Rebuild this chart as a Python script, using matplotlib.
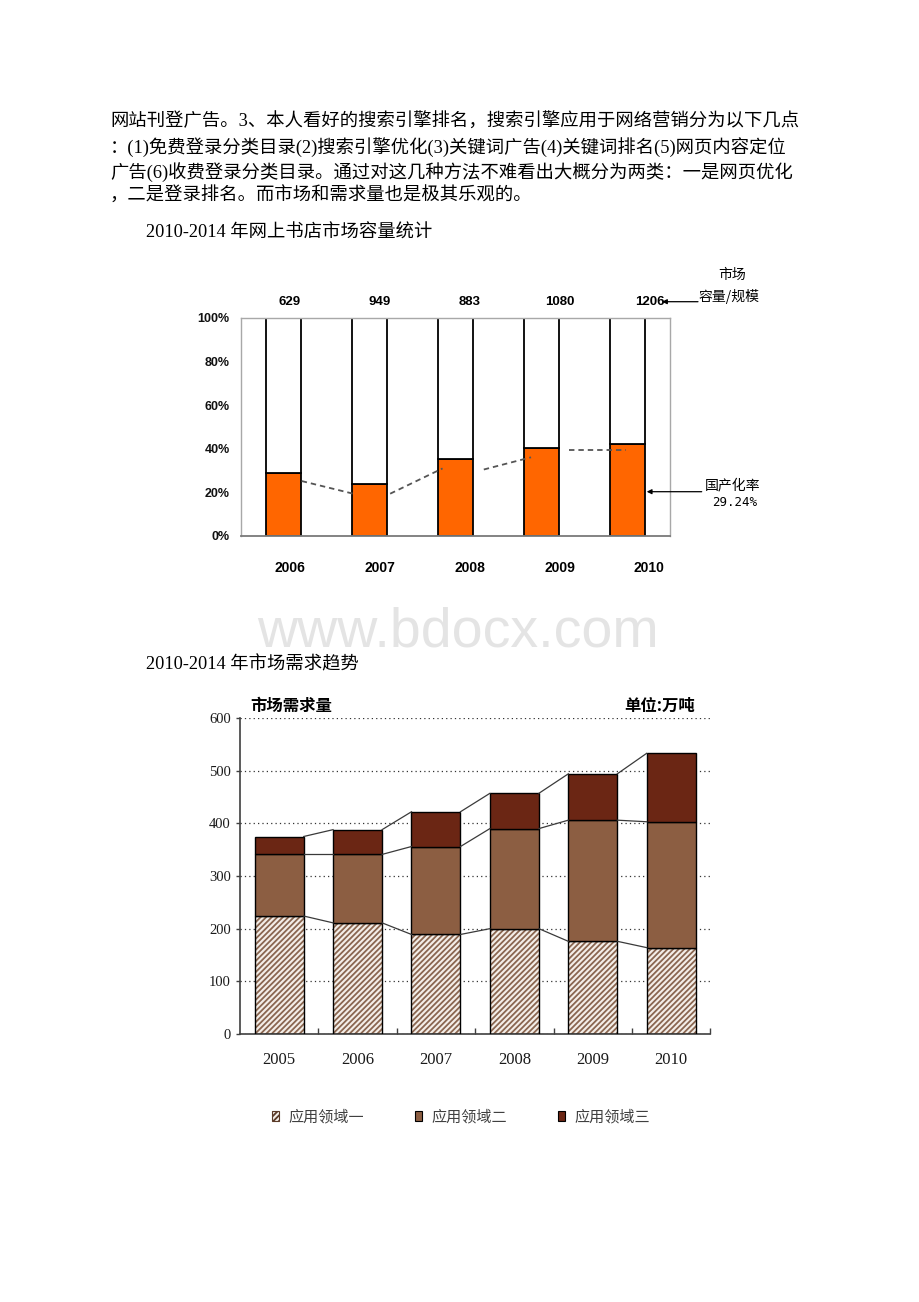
import matplotlib
matplotlib.use('Agg')
import matplotlib.pyplot as plt
from matplotlib.patches import Patch, FancyArrowPatch

W, H = 920, 1302

# ---------------- data ----------------
body_lines = [
    "网站刊登广告。3、本人看好的搜索引擎排名，搜索引擎应用于网络营销分为以下几点",
    "：(1)免费登录分类目录(2)搜索引擎优化(3)关键词广告(4)关键词排名(5)网页内容定位",
    "广告(6)收费登录分类目录。通过对这几种方法不难看出大概分为两类：一是网页优化",
    "，二是登录排名。而市场和需求量也是极其乐观的。",
]
caption1 = "2010-2014 年网上书店市场容量统计"
caption2 = "2010-2014 年市场需求趋势"
watermark = "www.bdocx.com"

years1 = ["2006", "2007", "2008", "2009", "2010"]
capacity = [629, 949, 883, 1080, 1206]
localization_pct = [28.7, 23.7, 35.3, 40.4, 42.3]
trend_start = [25.2, 19.4, 30.5, 39.4]
trend_end = [19.4, 31.0, 36.1, 39.4]
pct_ticks = [0, 20, 40, 60, 80, 100]
pct_labels = ["0%", "20%", "40%", "60%", "80%", "100%"]
note_capacity = ["市场", "容量/规模"]
note_rate = ["国产化率", "29.24%"]

years2 = ["2005", "2006", "2007", "2008", "2009", "2010"]
field1 = [224, 211, 189, 200, 176, 164]
field2 = [117, 130, 167, 190, 230, 239]
field3 = [34, 47, 66, 67, 88, 130]
demand_ticks = [0, 100, 200, 300, 400, 500, 600]
legend_labels = ["应用领域一", "应用领域二", "应用领域三"]
chart2_title = "市场需求量"
chart2_unit = "单位:万吨"

# ---------------- helpers ----------------
def fx(x):
    return x / W

def fy(y):
    return 1 - y / H

MIX = ["Liberation Serif", "Noto Sans CJK SC"]
CJK = ["Noto Sans CJK SC", "DejaVu Sans"]
plt.rcParams["hatch.linewidth"] = 1.3

fig = plt.figure(figsize=(W / 100, H / 100), dpi=100)
fig.patch.set_facecolor("white")

# body text
line_y = [122, 147, 172, 196]
for ln, yy in zip(body_lines, line_y):
    fig.text(fx(110), fy(yy), ln, fontsize=13.2, family=MIX, ha="left", va="center", color="black")
fig.text(fx(146), fy(233), caption1, fontsize=13.2, family=MIX, ha="left", va="center")
fig.text(fx(146), fy(665), caption2, fontsize=13.2, family=MIX, ha="left", va="center")

# watermark
fig.text(fx(458), fy(632), watermark, fontsize=40, family="Liberation Sans",
         ha="center", va="center", color="#e4e4e4", zorder=0)

# ---------------- chart 1 ----------------
ax1 = fig.add_axes([fx(240.7), fy(536), (670.2 - 240.7) / W, 218 / H])
n1 = len(years1)
xs1 = list(range(n1))
bw1 = 0.41
upper = [100 - v for v in localization_pct]
ax1.bar(xs1, localization_pct, width=bw1, color="#ff6600", edgecolor="black", linewidth=1.3, zorder=2)
ax1.bar(xs1, upper, bottom=localization_pct, width=bw1, color="white", edgecolor="black", linewidth=1.3, zorder=2)

seg_start_off = [0.21, 0.24, 0.33, 0.32]
seg_end_off = [0.81, 0.85, 0.88, 0.98]
for i in range(len(trend_start)):
    ax1.plot([i + seg_start_off[i], i + seg_end_off[i]], [trend_start[i], trend_end[i]],
             linestyle=(0, (3, 2.2)), color="#555555", linewidth=1.3, zorder=3)

ax1.set_xlim(-0.5, n1 - 0.5)
ax1.set_ylim(0, 100)
ax1.set_yticks(pct_ticks)
ax1.set_yticklabels(pct_labels, fontsize=9, fontweight="bold", family="Liberation Sans", color="#111111")
ax1.set_xticks([])
ax1.tick_params(axis="y", length=0, pad=8.0)
for s in ["top", "left", "right"]:
    ax1.spines[s].set_color("#a8a8a8")
    ax1.spines[s].set_linewidth(1.0)
ax1.spines["bottom"].set_color("#7a7a7a")
ax1.spines["bottom"].set_linewidth(1.3)

for i, (v, yr) in enumerate(zip(capacity, years1)):
    lx = i + 0.07 + 0.047 * i
    ax1.annotate(str(v), xy=(lx, 100), xytext=(0, 11.8), textcoords="offset points",
                 ha="center", va="center", fontsize=9.5, fontweight="bold", family="Liberation Sans",
                 annotation_clip=False)
    ax1.annotate(yr, xy=(lx, 0), xytext=(0, -23.3), textcoords="offset points",
                 ha="center", va="center", fontsize=10, fontweight="bold", family="Liberation Sans",
                 annotation_clip=False)

# annotations chart 1
fig.text(fx(731.7), fy(275), note_capacity[0], fontsize=10, family=CJK, ha="center", va="center")
fig.text(fx(729), fy(297), note_capacity[1], fontsize=10, family=CJK, ha="center", va="center")
fig.text(fx(732.7), fy(485), note_rate[0], fontsize=10, family=CJK, ha="center", va="center")
fig.text(fx(734.3), fy(502), note_rate[1], fontsize=9, family="DejaVu Sans Mono", ha="center", va="center")
arrow_kw = dict(arrowstyle="-|>", color="black", lw=0.9, mutation_scale=7, shrinkA=0, shrinkB=0)
fig.add_artist(FancyArrowPatch((fx(698), fy(301.7)), (fx(662), fy(301.7)),
                               transform=fig.transFigure, **arrow_kw))
fig.add_artist(FancyArrowPatch((fx(701.7), fy(491.7)), (fx(646.7), fy(491.7)),
                               transform=fig.transFigure, **arrow_kw))

# ---------------- chart 2 ----------------
ax2 = fig.add_axes([fx(240), fy(1034), 470.4 / W, 316 / H])
n2 = len(years2)
xs2 = list(range(n2))
bw2 = 0.625
c2 = "#8c5e42"
c3 = "#6b2614"
hatch_col = "#8a6650"
lvl1 = field1
lvl2 = [a + b for a, b in zip(field1, field2)]
lvl3 = [a + b for a, b in zip(lvl2, field3)]

ax2.bar(xs2, field1, width=bw2, color="#f4eee8", edgecolor=hatch_col, hatch="//////", linewidth=0, zorder=2)
ax2.bar(xs2, field1, width=bw2, fill=False, edgecolor="black", linewidth=1.0, zorder=3)
ax2.bar(xs2, field2, bottom=lvl1, width=bw2, color=c2, edgecolor="black", linewidth=1.0, zorder=3)
ax2.bar(xs2, field3, bottom=lvl2, width=bw2, color=c3, edgecolor="black", linewidth=1.0, zorder=3)

for lv in (lvl1, lvl2, lvl3):
    for i in range(n2 - 1):
        ax2.plot([i + bw2 / 2, i + 1 - bw2 / 2], [lv[i], lv[i + 1]], color="#3a3a3a", lw=0.9, zorder=3)

ax2.set_xlim(-0.5, n2 - 0.5)
ax2.set_ylim(0, 600)
ax2.set_yticks(demand_ticks)
ax2.set_yticklabels([str(t) for t in demand_ticks], fontsize=10.5, family="Liberation Serif", color="#1a1a1a")
ax2.set_xticks(xs2)
ax2.set_xticklabels(years2, fontsize=12, family="Liberation Serif", color="#1a1a1a")
ax2.set_xticks([i + 0.5 for i in range(n2)], minor=True)
ax2.tick_params(axis="x", which="major", length=0, pad=13)
ax2.tick_params(axis="x", which="minor", direction="in", length=4, color="#404040", width=1)
ax2.tick_params(axis="y", direction="out", length=3, color="#404040", width=1, pad=3.5)
ax2.set_axisbelow(True)
ax2.yaxis.grid(True, linestyle=(0, (1, 2.5)), color="#333333", linewidth=0.9)
for s in ["top", "right"]:
    ax2.spines[s].set_visible(False)
for s in ["left", "bottom"]:
    ax2.spines[s].set_color("#404040")
    ax2.spines[s].set_linewidth(1.2)

fig.text(fx(250.7), fy(706), chart2_title, fontsize=11.8, fontweight="bold", family=CJK, ha="left", va="center")
fig.text(fx(695), fy(706), chart2_unit, fontsize=11.8, fontweight="bold", family=CJK, ha="right", va="center")

handles = [
    Patch(facecolor="#f4eee8", edgecolor="#5a3a28", hatch="//////", linewidth=0.8),
    Patch(facecolor=c2, edgecolor="black", linewidth=0.8),
    Patch(facecolor=c3, edgecolor="black", linewidth=0.8),
]
fig.legend(handles, legend_labels, loc="center left", bbox_to_anchor=(fx(271.7), fy(1117)),
           ncol=3, frameon=False, borderpad=0, borderaxespad=0, handlelength=0.5, handleheight=0.6,
           handletextpad=0.58, columnspacing=3.37, prop={"family": CJK, "size": 10.9},
           labelcolor="#404040")

fig.savefig("out.png", dpi=100, facecolor="white")
